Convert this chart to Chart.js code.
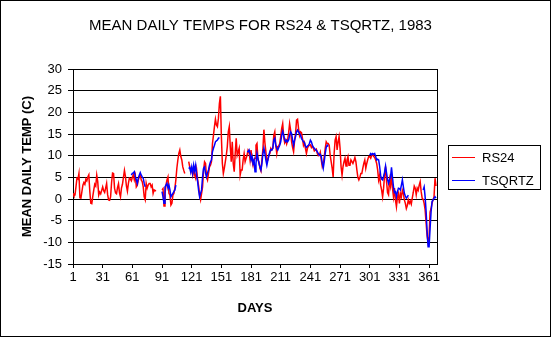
<!DOCTYPE html>
<html>
<head>
<meta charset="utf-8">
<title>Mean daily temps for RS24 &amp; TSQRTZ, 1983</title>
<script src="https://cdn.jsdelivr.net/npm/chart.js@4.4.1/dist/chart.umd.min.js"></script>
<style>
  html, body { margin: 0; padding: 0; background: #fff; }
  canvas { display: block; }
</style>
</head>
<body>
<canvas id="tempChart" width="551" height="337"></canvas>
<script>
// day numbers (categories) and axis ticks
const days = Array.from({ length: 368 }, (_, i) => i + 1);
const xTicks = [1, 31, 61, 91, 121, 151, 181, 211, 241, 271, 301, 331, 361];
const yTicks = [-15, -10, -5, 0, 5, 10, 15, 20, 25, 30];

// RS24, one value per day (null = no reading)
const rs24 = [
  1.3, 0.8, 0.9, 2.8, 4.8, 4.6, 5.9, 0.3, 0.2, 1.7,
  3.2, 3.8, 3.4, 4.6, 4.2, 5.1, 5.6, 1.7, -1.0, -1.1,
  0.6, 2.1, 3.4, 3.0, 5.5, 4.0, 0.9, 1.6, 1.2, 2.0,
  2.8, 1.9, 1.5, 2.5, 3.6, 1.0, -0.2, -0.3, 0.5, 3.8,
  6.0, 5.9, 2.5, 1.4, 1.2, 2.6, 3.5, 1.4, 0.5, 2.5,
  3.4, 5.0, 6.6, 5.2, 3.0, 1.8, 3.6, 4.8, 4.6, 4.2,
  5.0, 5.6, 4.4, 5.4, 2.8, 3.2, 4.3, 5.2, 5.5, 4.4,
  4.0, 2.8, 0.5, -0.2, 3.6, 2.5, 3.2, 3.6, 3.6, 2.8,
  3.2, 1.3, 2.1, 1.9, 2.0, null, null, null, null, null,
  2.1, 2.4, -1.6, 1.3, 3.2, 4.4, 5.1, 1.3, 0.9, -1.4,
  -1.0, 0.9, 1.3, 2.5, 4.4, 7.1, 9.0, 10.5, 11.3, 9.8,
  9.0, 7.4, 6.6, 5.9, null, null, null, 8.6, 7.4, 6.6,
  6.6, 5.5, 7.1, 5.5, 4.8, 6.7, 4.5, 3.0, 0.9, -0.2,
  1.3, 2.8, 6.7, 8.6, 8.2, 5.1, 4.4, 5.9, 7.4, 7.8,
  8.6, 12.8, 14.7, 16.7, 18.4, 17.1, 16.7, 18.6, 22.0, 23.7,
  14.4, 8.2, 5.9, 7.1, 8.6, 10.1, 12.1, 15.5, 16.7, 12.1,
  8.6, 13.2, 8.2, 6.3, 10.5, 14.0, 10.1, 10.9, 11.7, 5.5,
  6.7, 6.7, 9.0, 10.5, 8.6, 9.4, 10.1, 11.3, 10.9, 9.0,
  11.3, 9.0, 7.8, 9.0, 9.4, 12.4, 12.8, 9.0, 8.6, 7.1,
  6.5, 9.0, 11.5, 16.0, 13.0, 10.9, 8.6, 9.0, 10.1, 10.5,
  11.7, 11.3, 11.7, 14.7, 15.5, 12.4, 10.5, 12.1, 12.2, 12.8,
  14.4, 16.3, 17.4, 14.4, 13.0, 13.6, 12.7, 13.6, 15.3, 17.4,
  15.9, 13.2, 11.9, 10.9, 13.4, 15.1, 18.2, 18.4, 16.3, 14.7,
  15.5, 15.3, 14.0, 12.4, 13.0, 11.7, 10.5, 11.7, 12.2, 12.4,
  12.5, 11.9, 12.3, 11.7, 11.1, 11.3, 11.5, 10.5, 10.0, 10.1,
  10.8, 9.0, 7.5, 8.2, 9.8, 11.7, 13.2, 12.8, 12.8, 12.4,
  10.1, 8.6, 7.1, 5.1, 10.5, 13.6, 14.4, 11.3, 13.2, 14.4,
  11.7, 7.5, 5.5, 7.5, 8.6, 9.4, 7.6, 9.0, 9.8, 7.8,
  7.8, 9.0, 8.6, 8.2, 8.8, 9.6, 8.6, 6.7, 5.0, 4.4,
  5.0, 5.9, 5.9, 7.1, 8.2, 9.0, 7.1, 8.2, 9.1, 9.8,
  9.8, 9.4, 10.1, 10.3, 9.8, 9.6, 9.0, 8.2, 6.7, 4.4,
  5.5, 3.2, 2.1, 0.5, 2.5, 5.5, 7.5, 4.0, 1.5, 1.0,
  4.4, 3.0, 5.5, 2.5, 0.5, 2.5, -0.2, -1.8, 0.5, 1.3,
  -1.0, 1.3, 0.5, 2.0, 1.3, -0.2, -1.0, -2.2, -1.5, -0.2,
  -1.0, -0.5, -1.2, 0.2, 1.5, 3.0, 2.5, 1.0, 2.5, 2.0,
  3.2, 4.0, 1.7, 0.2, -0.1, -1.0, -2.5, -5.5, -8.5, -10.0,
  -8.7, -3.0, -2.2, -1.0, -0.2, 0.5, 4.8, 3.0
];

// TSQRTZ, one value per day (null = no reading)
const tsqrtz = [
  null, null, null, null, null, null, null, null, null, null,
  null, null, null, null, null, null, null, null, null, null,
  null, null, null, null, null, null, null, null, null, null,
  null, null, null, null, null, null, null, null, null, null,
  null, null, null, null, null, null, null, null, null, null,
  null, null, null, null, null, null, null, null, null, 5.5,
  5.9, 6.0, 6.3, 5.1, 4.4, 3.6, 4.8, 5.5, 6.1, 5.5,
  5.1, 4.8, 3.6, 2.8, null, null, null, null, null, null,
  null, null, null, null, null, null, null, null, null, null,
  1.7, 0.5, -1.0, 2.8, 3.2, 3.6, 2.5, 3.2, 2.1, 0.5,
  0.9, 1.3, 1.7, 2.1, 3.2, null, null, null, null, null,
  null, null, null, null, null, null, null, 7.0, 7.3, 6.2,
  7.4, 5.9, 7.8, 6.5, 7.8, 5.5, 4.0, 2.0, 0.5, 1.3,
  2.1, 5.1, 7.1, 7.4, 5.9, 5.1, 6.0, 6.7, 7.8, 8.6,
  9.0, 10.9, 11.7, 12.4, 13.2, 13.4, 13.6, 14.0, 14.2, null,
  null, null, null, null, null, null, null, null, null, null,
  null, null, null, null, null, null, null, null, null, null,
  null, null, null, null, null, null, 11.0, 10.9, 11.3, 10.5,
  9.0, 9.8, 8.2, 9.0, 6.3, 8.2, 10.5, 9.4, 8.2, 7.4,
  6.7, 8.2, 10.5, 11.7, 10.5, 9.0, 7.8, 9.0, 10.1, 10.9,
  11.4, 11.3, 11.7, 13.6, 14.0, 12.4, 11.7, 11.3, 11.9, 12.4,
  13.2, 14.7, 15.6, 14.7, 13.6, 13.2, 13.6, 13.2, 13.6, 14.7,
  15.5, 15.1, 13.6, 12.4, 13.6, 14.4, 15.5, 15.9, 15.5, 15.1,
  14.7, 14.0, 13.6, 13.2, 13.0, 12.2, 11.9, 12.2, 12.4, 12.8,
  13.6, 13.2, 12.4, 11.9, 11.7, 11.4, 11.3, 10.9, 10.5, 10.1,
  10.3, 9.8, 8.2, 7.1, 8.6, 10.5, 11.9, 12.4, 12.1, null,
  null, null, null, null, null, null, null, null, null, null,
  null, null, null, null, null, null, null, null, null, null,
  null, null, null, null, null, null, null, null, null, null,
  null, null, null, null, null, null, null, null, null, null,
  10.1, 10.5, 10.2, 10.5, 10.3, 10.5, 9.8, 9.0, 9.2, 9.0,
  7.5, 5.5, 4.6, 4.4, 5.2, 6.2, 7.6, 6.0, 4.5, 3.6,
  4.4, 5.0, 7.3, 5.0, 2.8, 1.5, 1.7, 0.5, 1.7, 2.5,
  2.4, 2.1, 3.2, 4.4, 2.8, 1.3, 0.7, 0.2, 0.5, 0.9,
  null, null, null, null, null, null, null, null, null, null,
  null, null, null, null, 2.1, 2.8, 0.5, -2.9, -7.5, -11.0,
  -11.0, -6.8, -3.0, -0.6, -0.2, 0.2, 0.5, 0.2
];

const FONT = "Arial, 'Liberation Sans', sans-serif";

// white page, outer frame and plot frame
const frame = {
  id: "frame",
  beforeDraw(chart) {
    const ctx = chart.ctx;
    ctx.save();
    ctx.fillStyle = "#fff";
    ctx.fillRect(0, 0, chart.width, chart.height);
    ctx.restore();
  },
  afterDraw(chart) {
    const { ctx, chartArea } = chart;
    ctx.save();
    ctx.strokeStyle = "#000";
    ctx.lineWidth = 1;
    ctx.strokeRect(0.5, 0.5, chart.width - 1, chart.height - 1);
    const x = Math.round(chartArea.right) + 0.5;
    ctx.beginPath();
    ctx.moveTo(x, Math.round(chartArea.top));
    ctx.lineTo(x, Math.round(chartArea.bottom) + 1);
    ctx.stroke();
    ctx.restore();
  },
};

// boxed legend to the right of the plot
const boxLegend = {
  id: "boxLegend",
  afterDraw(chart) {
    const { ctx, chartArea } = chart;
    const left = Math.round(chartArea.right) + 11;
    const top = Math.round((chartArea.top + chartArea.bottom) / 2) - 22;
    ctx.save();
    ctx.strokeStyle = "#000";
    ctx.lineWidth = 1;
    ctx.strokeRect(left + 0.5, top + 0.5, 92, 44);
    ctx.font = "13px " + FONT;
    ctx.textBaseline = "middle";
    chart.data.datasets.forEach((ds, i) => {
      const y = top + 12 + i * 23;
      ctx.strokeStyle = ds.borderColor;
      ctx.beginPath();
      ctx.moveTo(left + 4, y + 0.5);
      ctx.lineTo(left + 27, y + 0.5);
      ctx.stroke();
      ctx.fillStyle = "#000";
      ctx.fillText(ds.label, left + 34, y + 1);
    });
    ctx.restore();
  },
};

new Chart(document.getElementById("tempChart"), {
  type: "line",
  data: {
    datasets: [
      {
        label: "RS24",
        data: days.map((d, i) => ({ x: d, y: rs24[i] })),
        borderColor: "#ff0000",
        borderWidth: 1.5,
        pointRadius: 0,
        tension: 0,
        spanGaps: false,
        order: 1,
      },
      {
        label: "TSQRTZ",
        data: days.map((d, i) => ({ x: d, y: tsqrtz[i] })),
        borderColor: "#0000ff",
        borderWidth: 1.5,
        pointRadius: 0,
        tension: 0,
        spanGaps: false,
        order: 0,
      },
    ],
  },
  options: {
    responsive: false,
    animation: false,
    layout: { padding: { left: 0, right: 30, top: 0, bottom: 0 } },
    plugins: {
      legend: { display: false },
      tooltip: { enabled: false },
      title: {
        display: true,
        text: "MEAN DAILY TEMPS FOR RS24 & TSQRTZ, 1983",
        color: "#000",
        font: { family: FONT, size: 15, weight: "normal" },
        padding: { top: 17, bottom: 34 },
      },
    },
    scales: {
      x: {
        type: "linear",
        min: 1,
        max: 369,
        afterBuildTicks: (scale) => {
          scale.ticks = xTicks.map((v) => ({ value: v }));
        },
        afterFit: (scale) => {
          scale.height = 73;
        },
        ticks: {
          color: "#000",
          font: { family: FONT, size: 13 },
          padding: 2,
          maxRotation: 0,
          autoSkip: false,
        },
        grid: {
          drawOnChartArea: false,
          color: "#000",
          tickLength: 4,
        },
        border: { color: "#000" },
        title: {
          display: true,
          text: "DAYS",
          color: "#000",
          font: { family: FONT, size: 13, weight: "bold" },
          padding: { top: 0, bottom: 21 },
        },
      },
      y: {
        min: -15,
        max: 30,
        afterBuildTicks: (scale) => {
          scale.ticks = yTicks.map((v) => ({ value: v }));
        },
        afterFit: (scale) => {
          scale.width = 73;
        },
        ticks: {
          color: "#000",
          font: { family: FONT, size: 13 },
          padding: 6,
        },
        grid: {
          color: "#000",
          tickLength: 5,
        },
        border: { color: "#000" },
        title: {
          display: true,
          text: "MEAN DAILY TEMP (C)",
          color: "#000",
          font: { family: FONT, size: 13, weight: "bold" },
          padding: { top: 20, bottom: 0 },
        },
      },
      // empty right-hand strip that holds the legend
      legendSpace: {
        position: "right",
        ticks: { display: false },
        grid: { display: false, drawTicks: false },
        border: { display: false },
        afterFit: (scale) => {
          scale.width = 84;
        },
      },
    },
  },
  plugins: [frame, boxLegend],
});
</script>
</body>
</html>
